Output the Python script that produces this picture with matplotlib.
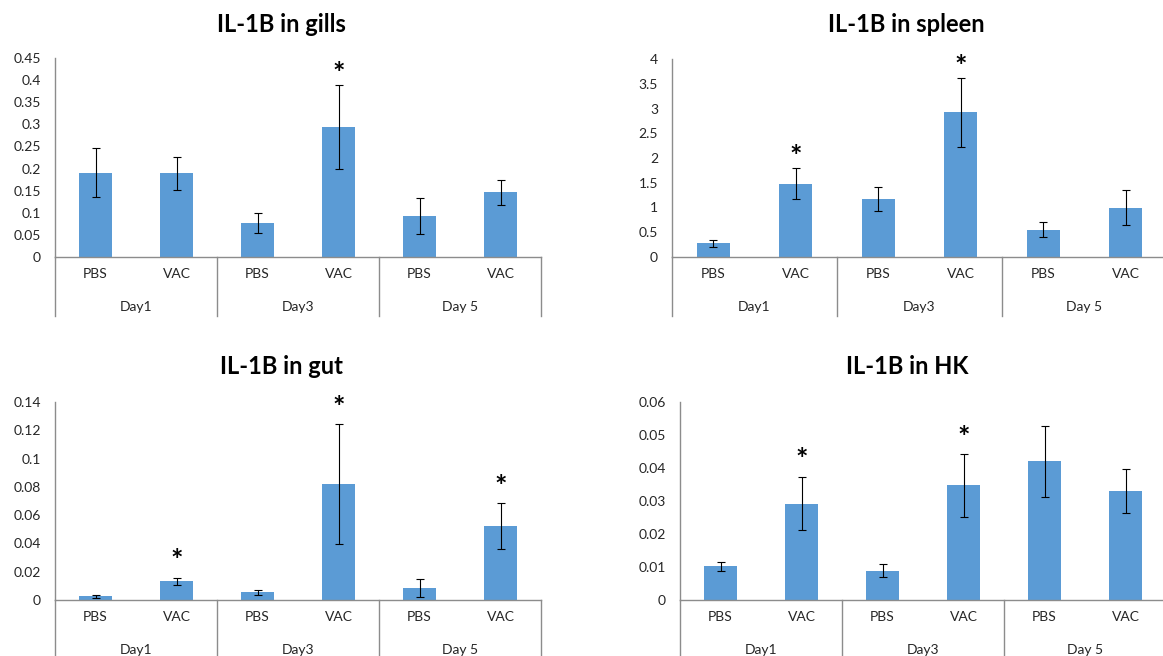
import matplotlib.pyplot as plt
import numpy as np

# ---- data ----
treatments = ["PBS", "VAC", "PBS", "VAC", "PBS", "VAC"]
days = ["Day1", "Day3", "Day 5"]

gills_mean = [0.191, 0.189, 0.077, 0.294, 0.093, 0.146]
gills_err = [0.056, 0.038, 0.022, 0.095, 0.040, 0.029]
gills_star = [0, 0, 0, 1, 0, 0]

spleen_mean = [0.28, 1.48, 1.17, 2.92, 0.55, 1.00]
spleen_err = [0.07, 0.31, 0.24, 0.70, 0.15, 0.35]
spleen_star = [0, 1, 0, 1, 0, 0]

gut_mean = [0.0027, 0.0132, 0.0054, 0.0818, 0.0084, 0.0524]
gut_err = [0.0010, 0.0027, 0.0020, 0.0425, 0.0066, 0.0160]
gut_star = [0, 1, 0, 1, 0, 1]

hk_mean = [0.0102, 0.0292, 0.0089, 0.0347, 0.0420, 0.0330]
hk_err = [0.0013, 0.0081, 0.0020, 0.0094, 0.0108, 0.0066]
hk_star = [0, 1, 0, 1, 0, 0]

titles = ["IL-1B in gills", "IL-1B in spleen", "IL-1B in gut", "IL-1B in HK"]
ymax = [0.45, 4, 0.14, 0.06]
ystep = [0.05, 0.5, 0.02, 0.01]

# ---- style ----
W, H = 1163, 656
plt.rcParams['font.family'] = ['Lato', 'DejaVu Sans']
bar_color = "#5B9BD5"
line_color = "#8C8C8C"
text_color = "#262626"

fig = plt.figure(figsize=(W / 100, H / 100), dpi=100)
fig.patch.set_facecolor("white")

# panel boxes in pixels: left, right, y of top tick, y of zero line
boxes = [(55, 541, 58, 257), (672, 1167, 59, 257),
         (55, 541, 402, 600), (680, 1166, 402, 600)]
title_pos = [(281, 25), (906, 25), (281, 366), (907, 367)]
star_off = [8, 8, 12, 12]

panels = [(gills_mean, gills_err, gills_star),
          (spleen_mean, spleen_err, spleen_star),
          (gut_mean, gut_err, gut_star),
          (hk_mean, hk_err, hk_star)]

for k, (mean, err, star) in enumerate(panels):
    l, r, t, z = boxes[k]
    ax = fig.add_axes([l / W, (H - z) / H, (r - l) / W, (z - t) / H])
    x = np.arange(len(mean))
    ax.bar(x, mean, width=0.4, color=bar_color, zorder=2)
    ax.errorbar(x, mean, yerr=err, fmt="none", ecolor="black",
                elinewidth=0.8, capsize=2.6, capthick=0.8, zorder=3)
    for i in x:
        if star[i]:
            ax.annotate("*", xy=(i, mean[i] + err[i]), xytext=(0, star_off[k]),
                        textcoords="offset points", ha="center", va="center",
                        fontsize=21, fontweight="bold", color="black")

    ax.set_xlim(-0.5, len(mean) - 0.5)
    ax.set_ylim(0, ymax[k])
    yt = np.arange(0, ymax[k] + ystep[k] / 2, ystep[k])
    ax.set_yticks(yt, [f"{v:g}" for v in np.round(yt, 3)])
    ax.set_xticks(x, treatments)
    ax.tick_params(axis="y", length=0, pad=10, labelsize=10, labelcolor=text_color)
    ax.tick_params(axis="x", length=0, pad=8, labelsize=10, labelcolor=text_color)
    for s in ["top", "right"]:
        ax.spines[s].set_visible(False)
    for s in ["left", "bottom"]:
        ax.spines[s].set_color(line_color)
        ax.spines[s].set_linewidth(1.0)

    # second level of the category axis
    depth = -59 / (z - t)
    for b in [-0.5, 1.5, 3.5, 5.5]:
        ax.plot([b, b], [0, depth], color=line_color, lw=1.0,
                transform=ax.get_xaxis_transform(), clip_on=False)
    for j, d in enumerate(days):
        ax.annotate(d, xy=(2 * j + 0.5, 0), xycoords=("data", "axes fraction"),
                    xytext=(0, -36), textcoords="offset points",
                    ha="center", va="center", fontsize=10, color=text_color)

    fig.text(title_pos[k][0] / W, 1 - title_pos[k][1] / H, titles[k],
             ha="center", va="center", fontsize=17, fontweight="bold", color="black")

fig.savefig("out.png", dpi=100)
